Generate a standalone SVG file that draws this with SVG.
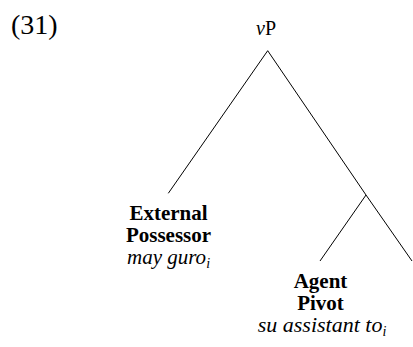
<svg xmlns="http://www.w3.org/2000/svg" width="413" height="347" viewBox="0 0 413 347">
<style>
text{font-family:"Liberation Serif","Times New Roman",serif;fill:#000}
.lbl{font-size:21px;text-anchor:middle}
.b{font-weight:bold}
.i{font-style:italic}
.sub{font-size:14px;font-style:italic}
line{stroke:#000;stroke-width:1;fill:none}
</style>
<rect width="413" height="347" fill="#fff"/>
<text x="11" y="34" style="font-size:28px">(31)</text>
<g id="connectors">
<line x1="267.7" y1="50.7" x2="168.3" y2="193.3"/>
<line x1="267.7" y1="50.7" x2="366" y2="195"/>
<line x1="366" y1="195" x2="320" y2="261"/>
<line x1="366" y1="195" x2="412" y2="261"/>
</g>
<g id="node-vP">
<text class="lbl" x="266" y="35" style="font-size:20px"><tspan class="i">v</tspan>P</text>
</g>
<g id="node-external-possessor">
<text class="lbl b" x="168.5" y="220">External</text>
<text class="lbl b" x="168.5" y="242">Possessor</text>
<text class="lbl i" x="168.5" y="264">may guro<tspan class="sub" dy="4">i</tspan></text>
</g>
<g id="node-agent-pivot">
<text class="lbl b" x="320.5" y="288">Agent</text>
<text class="lbl b" x="320.5" y="310">Pivot</text>
<text class="lbl i" x="322" y="332" style="font-size:22px">su assistant to<tspan class="sub" dy="4">i</tspan></text>
</g>
</svg>
